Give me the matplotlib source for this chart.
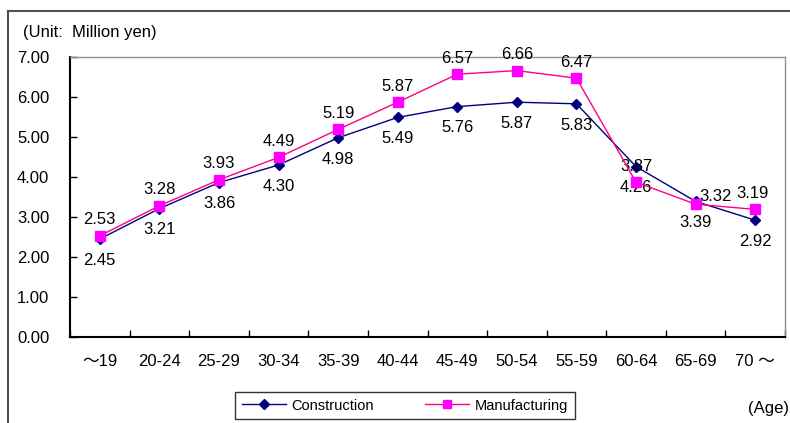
import matplotlib
matplotlib.use("Agg")
import matplotlib.pyplot as plt
from matplotlib.lines import Line2D

plt.rcParams['font.family'] = ['Liberation Sans', 'Noto Sans CJK JP', 'DejaVu Sans']

ages = ['～19', '20-24', '25-29', '30-34', '35-39', '40-44', '45-49',
        '50-54', '55-59', '60-64', '65-69', '70 ～']
construction = [2.45, 3.21, 3.86, 4.30, 4.98, 5.49, 5.76, 5.87, 5.83, 4.26, 3.39, 2.92]
manufacturing = [2.53, 3.28, 3.93, 4.49, 5.19, 5.87, 6.57, 6.66, 6.47, 3.87, 3.32, 3.19]
yticks = [0, 1, 2, 3, 4, 5, 6, 7]

fig = plt.figure(figsize=(7.9, 4.23), dpi=100)
ax = fig.add_axes([70 / 790, 1 - 337 / 423, 715 / 790, 280 / 423])

x = list(range(len(ages)))
ax.plot(x, construction, color='#000080', lw=1, marker='D', ms=5,
        mfc='#000080', mec='#000080', zorder=3)
ax.plot(x, manufacturing, color='#FF0080', lw=1, marker='s', ms=7,
        mfc='#FF00FF', mec='#FF00FF', zorder=4)

# data labels: construction below, manufacturing above
for i, v in enumerate(construction):
    ax.annotate(f'{v:.2f}', (i, v), xytext=(0, -10), textcoords='offset points',
                ha='center', va='top', fontsize=12)
m_off = {10: (14, 0), 11: (-2, 6)}
for i, v in enumerate(manufacturing):
    dx, dy = m_off.get(i, (0, 6))
    ax.annotate(f'{v:.2f}', (i, v), xytext=(dx, dy), textcoords='offset points',
                ha='center', va='bottom', fontsize=12)

ax.set_xlim(-0.5, len(ages) - 0.5)
ax.set_ylim(0, 7)
ax.set_yticks(yticks)
ax.set_yticklabels([f'{t:.2f}' for t in yticks], fontsize=12)
ax.set_xticks([i + 0.5 for i in range(len(ages) - 1)] + [-0.5, len(ages) - 0.5])
ax.set_xticklabels([])
ax.set_xticks(x, minor=True)
ax.set_xticklabels(ages, minor=True, fontsize=12)
ax.tick_params(axis='both', which='major', direction='in', length=5, width=1)
ax.tick_params(axis='x', which='minor', length=0, pad=12)
ax.tick_params(axis='y', pad=15)

for s in ['left', 'bottom']:
    ax.spines[s].set_color('black')
    ax.spines[s].set_linewidth(1.5)
for s in ['top', 'right']:
    ax.spines[s].set_color('#909090')
    ax.spines[s].set_linewidth(1)

fig.text(23 / 790, 1 - 33 / 423, '(Unit:  Million yen)', fontsize=12, va='center')
fig.text(789 / 790, 1 - 408 / 423, '(Age)', fontsize=12, va='center', ha='right')

# outer frame
fig.add_artist(Line2D([8 / 790, 1], [1 - 11 / 423] * 2, color='#505050', lw=1.5))
fig.add_artist(Line2D([8 / 790] * 2, [0, 1 - 11 / 423], color='#505050', lw=1.5))

handles = [Line2D([], [], color='#000080', lw=1, marker='D', ms=5, mfc='#000080', mec='#000080'),
           Line2D([], [], color='#FF0080', lw=1, marker='s', ms=6, mfc='#FF00FF', mec='#FF00FF')]
leg = fig.legend(handles, ['Construction', 'Manufacturing'], ncol=2,
                 loc='center', bbox_to_anchor=(405 / 790, 1 - 405.5 / 423),
                 fontsize=10.5, frameon=True, fancybox=False, edgecolor='black',
                 borderpad=0.45, handlelength=3, columnspacing=3.5, handletextpad=0.4)
leg.get_frame().set_linewidth(1)

fig.savefig('out.png', dpi=100)
